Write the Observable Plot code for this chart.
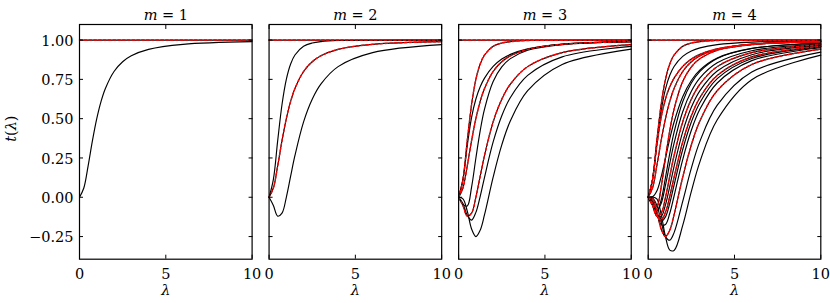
<!DOCTYPE html>
<html>
<head>
<meta charset="utf-8">
<script src="https://cdn.jsdelivr.net/npm/d3@7"></script>
<script src="https://cdn.jsdelivr.net/npm/@observablehq/plot@0.6"></script>
<style>
html, body { margin: 0; padding: 0; background: #fff; }
#chart { width: 830px; height: 303px; }
</style>
</head>
<body>
<div id="chart"></div>
<script>
// ---- data ----
const panels = [1, 2, 3, 4];
const xTicks = [0, 5, 10];
const yTicks = [-0.25, 0, 0.25, 0.5, 0.75, 1];
const lambdas = [0, 0.25, 0.5, 0.75, 1, 1.25, 1.5, 2, 2.5, 3, 4, 6, 10];

const tOne = [1, 1, 1, 1, 1, 1, 1, 1, 1, 1, 1, 1, 1];
const tA   = [0, 0.059, 0.2, 0.36, 0.5, 0.61, 0.692, 0.8, 0.862, 0.9, 0.941, 0.973, 0.99];
const tB   = [0, 0.114, 0.36, 0.59, 0.75, 0.848, 0.905, 0.96, 0.981, 0.99, 0.997, 0.999, 1.0];
const tC   = [0, -0.052, -0.12, -0.101, 0, 0.134, 0.266, 0.48, 0.624, 0.72, 0.831, 0.92, 0.971];
const tD   = [0, -0.01, -0.088, -0.202, -0.25, -0.209, -0.111, 0.128, 0.333, 0.486, 0.678, 0.845, 0.942];
const tE   = [0, -0.045, -0.056, 0.065, 0.25, 0.424, 0.561, 0.736, 0.829, 0.882, 0.935, 0.971, 0.99];
const tF   = [0, -0.039, -0.115, -0.145, -0.096, 0.006, 0.127, 0.352, 0.519, 0.635, 0.775, 0.893, 0.96];
const tG   = [0, 0.111, 0.328, 0.508, 0.625, 0.703, 0.758, 0.832, 0.879, 0.909, 0.944, 0.974, 0.99];
const tH   = [0, 0.002, -0.011, -0.109, -0.25, -0.336, -0.338, -0.179, 0.037, 0.227, 0.493, 0.748, 0.904];
const tI   = [0, -0.004, -0.05, -0.156, -0.25, -0.273, -0.225, -0.026, 0.185, 0.357, 0.586, 0.797, 0.923];
const tJ   = [0, -0.031, -0.104, -0.152, -0.125, -0.038, 0.078, 0.304, 0.479, 0.603, 0.755, 0.883, 0.957];
const tK   = [0, -0.025, -0.102, -0.174, -0.173, -0.102, 0.008, 0.24, 0.426, 0.561, 0.727, 0.869, 0.951];
const tL   = [0, -0.049, -0.088, -0.018, 0.125, 0.279, 0.414, 0.608, 0.727, 0.801, 0.883, 0.946, 0.981];
const tM   = [0, 0.003, 0.04, 0.13, 0.25, 0.372, 0.479, 0.64, 0.743, 0.81, 0.886, 0.947, 0.98];
const tN   = [0, 0.113, 0.344, 0.549, 0.688, 0.776, 0.832, 0.896, 0.93, 0.95, 0.971, 0.987, 0.995];
const tO   = [0, -0.042, -0.086, -0.04, 0.077, 0.215, 0.344, 0.544, 0.674, 0.759, 0.855, 0.932, 0.975];
const tP   = [0, -0.046, -0.118, -0.123, -0.048, 0.07, 0.197, 0.416, 0.572, 0.678, 0.803, 0.907, 0.966];

const curveNames  = ["one", "A", "B", "C", "D", "E", "F", "G", "H", "I", "J", "K", "L", "M", "N", "O", "P"];
const curveValues = [tOne, tA, tB, tC, tD, tE, tF, tG, tH, tI, tJ, tK, tL, tM, tN, tO, tP];
// first m at which each curve appears
const curveLevels = [0, 1, 2, 2, 3, 3, 3, 3, 4, 4, 4, 4, 4, 4, 4, 4, 4];

// ---- table built from the arrays ----
const rows = [];
for (const m of panels) {
  curveNames.forEach((name, i) => {
    if (curveLevels[i] <= m) {
      lambdas.forEach((lam, j) => {
        rows.push({m, name, lam, t: curveValues[i][j], prev: curveLevels[i] <= m - 1});
      });
    }
  });
}
const prevRows = rows.filter(d => d.prev);

const FONT = "DejaVu Serif";

const chart = Plot.plot({
  width: 830,
  height: 303,
  marginTop: 24,
  marginRight: 9.7,
  marginBottom: 44.3,
  marginLeft: 79,
  style: {fontFamily: FONT, fontSize: "14.5px", background: "white", color: "black"},
  x: {domain: [0, 10], axis: null},
  y: {domain: [-0.394, 1.099], axis: null},
  fx: {domain: panels, paddingInner: 0.0895, paddingOuter: 0, round: false, axis: null},
  marks: [
    Plot.line(rows, {x: "lam", y: "t", z: "name", fx: "m", stroke: "black", strokeWidth: 1.15, curve: "catmull-rom"}),
    Plot.line(prevRows, {x: "lam", y: "t", z: "name", fx: "m", stroke: "#ff0000", strokeWidth: 1.4, strokeDasharray: "2.4,2.4", curve: "catmull-rom"}),
    Plot.frame({stroke: "black", strokeWidth: 1.2}),
    // inward ticks on all four sides of every panel
    Plot.axisX({anchor: "bottom", ticks: xTicks, tickSize: -4, fill: "none", label: null, facetAnchor: null, strokeWidth: 1}),
    Plot.axisX({anchor: "top", ticks: xTicks, tickSize: -4, fill: "none", label: null, facetAnchor: null, strokeWidth: 1}),
    Plot.axisY({anchor: "left", ticks: yTicks, tickSize: -4, fill: "none", label: null, facetAnchor: null, strokeWidth: 1}),
    Plot.axisY({anchor: "right", ticks: yTicks, tickSize: -4, fill: "none", label: null, facetAnchor: null, strokeWidth: 1}),
    // tick labels
    Plot.axisX({anchor: "bottom", ticks: xTicks, tickSize: 0, tickPadding: 10, label: null}),
    Plot.axisY({anchor: "left", ticks: yTicks, tickSize: 0, tickPadding: 6, dy: 1, tickFormat: d3.format(".2f"), label: null}),
    // panel titles and axis labels
    Plot.text(panels, {fx: d => d, text: d => "m = " + d, frameAnchor: "top", dy: -15, className: "ttl"}),
    Plot.text(panels, {fx: d => d, text: () => "λ", frameAnchor: "bottom", dy: 36, fontStyle: "italic", className: "xlab"}),
    Plot.text([1], {fx: d => d, text: () => "t(λ)", frameAnchor: "left", dx: -68, rotate: -90, className: "ylab"})
  ]
});

document.getElementById("chart").appendChild(chart);

// mixed italic / upright math text
const NS = "http://www.w3.org/2000/svg";
function setMixed(el, parts) {
  el.textContent = "";
  for (const [txt, italic] of parts) {
    const ts = document.createElementNS(NS, "tspan");
    ts.textContent = txt;
    if (italic) ts.setAttribute("font-style", "italic");
    el.appendChild(ts);
  }
}
chart.querySelectorAll("g.ttl text").forEach(el => {
  const v = el.textContent.replace("m = ", "");
  setMixed(el, [["m", true], [" = " + v, false]]);
});
chart.querySelectorAll("g.ylab text").forEach(el => {
  setMixed(el, [["t", true], ["(", false], ["λ", true], [")", false]]);
});
</script>
</body>
</html>
